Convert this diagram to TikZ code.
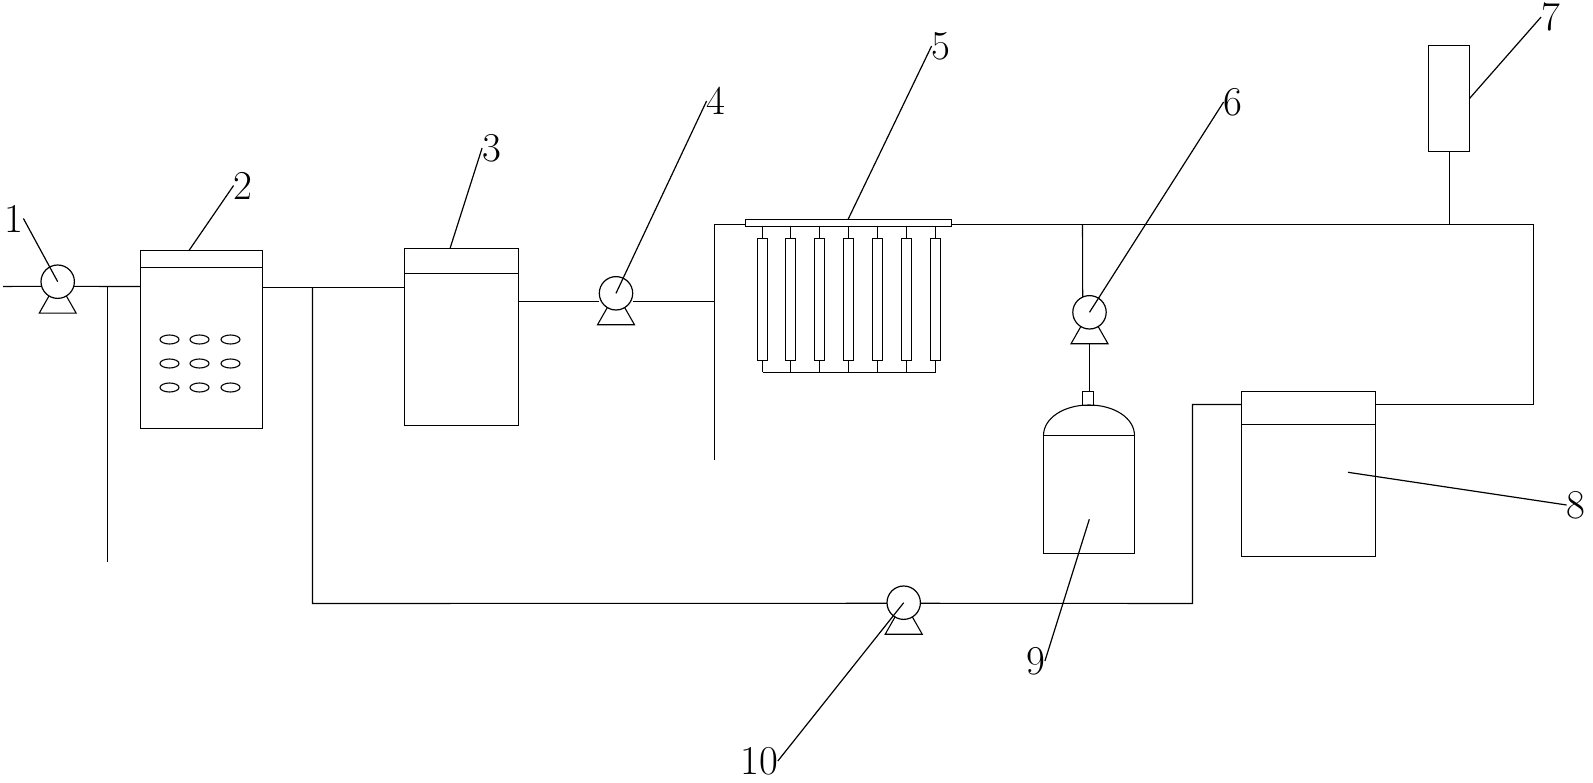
\documentclass[tikz,border=0pt]{standalone}
\usetikzlibrary{shapes.geometric,calc}
\tikzset{
  pipe/.style={draw=black,line width=1.1pt,line join=miter},
  leader/.style={draw=black,line width=1.2pt},
  tank/.style={draw=black,line width=1.1pt,fill=none,rectangle,inner sep=0pt,outer sep=0pt},
  tube/.style={tank,minimum width=10pt,minimum height=122pt},
  pumpbody/.style={draw=black,line width=1.2pt,circle,inner sep=0pt,outer sep=0pt,minimum size=33.4pt},
  bubble/.style={draw=black,line width=1.1pt,ellipse,inner sep=0pt,outer sep=0pt,minimum width=19pt,minimum height=9pt},
  tag/.style={inner sep=0pt,outer sep=0pt,font=\fontsize{41}{41}\selectfont},
}
\newcommand{\pumpfoot}[1]{%
  \draw[pipe] ([shift={(-8.7,14.3)}]#1.center) -- ([shift={(-18.5,31.5)}]#1.center)
    -- ([shift={(18.5,31.5)}]#1.center) -- ([shift={(8.7,14.3)}]#1.center);}
\begin{document}
\begin{tikzpicture}[x=1pt,y=-1pt]
\useasboundingbox (0,0) rectangle (1593,783);
\fill[white] (0,0) rectangle (1593,783);
% pumps
\node[pumpbody] (p1) at (57.7,281.7) {};
\node[pumpbody] (p4) at (616,293.3) {};
\node[pumpbody] (p6) at (1089.5,312.3) {};
\node[pumpbody] (p10) at (903.7,602.7) {};
\pumpfoot{p1}\pumpfoot{p4}\pumpfoot{p6}\pumpfoot{p10}
% tanks
\node[tank,minimum width=122pt,minimum height=178pt] (tank2) at (201.5,339.5) {};
\node[tank,minimum width=114pt,minimum height=177pt] (tank3) at (461.5,336.9) {};
\node[tank,minimum width=41pt,minimum height=106pt] (tank7) at (1449,98.5) {};
\node[tank,minimum width=134pt,minimum height=165pt] (tank8) at (1308.5,474) {};
\node[tank,minimum width=91pt,minimum height=118pt] (tank9) at (1089,494.5) {};
\node[tank,minimum width=11pt,minimum height=14pt] (neck) at (1088,398.5) {};
\node[tank,minimum width=206pt,minimum height=7pt] (hdr) at (848.5,223) {};
\draw[pipe] ([yshift=-17pt]tank2.north west) -- ([yshift=-17pt]tank2.north east);
\draw[pipe] ([yshift=-25pt]tank3.north west) -- ([yshift=-25pt]tank3.north east);
\draw[pipe] ([yshift=-33pt]tank8.north west) -- ([yshift=-33pt]tank8.north east);
\draw[pipe] (tank9.north west) .. controls (1043.5,418.4) and (1063.4,405) .. (1089,405)
   .. controls (1114.6,405) and (1134.5,418.4) .. (tank9.north east);
% bubbles
\foreach \n/\x/\y in {1/169.5/339.5,2/199.5/339.5,3/230.5/339.5,4/169.5/363.5,5/199.5/363.5,6/230.5/363.5,7/169.5/387.5,8/199.5/387.5,9/230.5/387.5}
  \node[bubble] (b\n) at (\x,\y) {};
% tubes
\foreach \n/\x in {1/762.5,2/790.5,3/819.5,4/848.5,5/877.5,6/906.5,7/935.5}
  \node[tube] (t\n) at (\x,299.5) {};
\coordinate (busy) at (762,372.5);
\foreach \n in {1,...,7}{
  \draw[pipe] (t\n.north) -- (t\n.north |- hdr.south);
  \draw[pipe] (t\n.south) -- (t\n.south |- busy);
}
\draw[pipe] (t1.south |- busy) -- (t7.south |- busy);
% pipes
\coordinate (in) at (3,286.5);
\coordinate (j1) at (107.5,286.5);
\coordinate (j1end) at (107.5,562);
\coordinate (o2) at (262.5,287.5);
\coordinate (j2) at (312.5,287.5);
\coordinate (c2) at (312.5,603.5);
\coordinate (c3) at (1192.5,603.5);
\coordinate (c4) at (1192.5,404.5);
\coordinate (o3) at (518.5,301.5);
\coordinate (j4) at (714.5,301.5);
\coordinate (top) at (714.5,224.5);
\coordinate (bot) at (714.5,460);
\coordinate (j6) at (1082.5,224.5);
\coordinate (j7) at (1449.5,224.5);
\coordinate (c5) at (1533.5,224.5);
\coordinate (c6) at (1533.5,404.5);
\draw[pipe] (in) -- (p1.196);
\draw[pipe] (p1.344) -- (j1) -- (tank2.west |- j1);
\draw[pipe] (j1) -- (j1end);
\draw[pipe] (o2) -- (j2) -- (tank3.west |- j2);
\draw[pipe] (j2) -- (c2) -- (p10.182);
\draw[pipe] (p10.358) -- (c3) -- (c4) -- (tank8.west |- c4);
\draw[pipe] (o3) -- (p4.west |- o3);
\draw[pipe] (p4.east |- o3) -- (j4);
\draw[pipe] (bot) -- (top) -- (hdr.west |- top);
\draw[pipe] (hdr.east |- c5) -- (c5) -- (c6) -- (tank8.east |- c6);
\draw[pipe] (j6) -- (p6.114);
\draw[pipe] (j7 |- tank7.south) -- (j7);
\draw[pipe] (p6.south |- 0,343) -- (p6.south |- neck.north);
% labels
\node[tag] (lab1) at (14,218.5) {1};
\node[tag] (lab2) at (243,185.5) {2};
\node[tag] (lab3) at (491.5,148) {3};
\node[tag] (lab4) at (716,101) {4};
\node[tag] (lab5) at (941,46) {5};
\node[tag] (lab6) at (1233,102) {6};
\node[tag] (lab7) at (1550.5,17) {7};
\node[tag] (lab8) at (1576,505) {8};
\node[tag] (lab9) at (1035.5,661) {9};
\node[tag] (lab10) at (759,761) {10};
% leaders
\coordinate (s2) at (189,250.5);
\coordinate (s3) at (450,248.5);
\coordinate (s5) at (848,219.5);
\coordinate (s8) at (1348,472.3);
\coordinate (s9) at (1089.3,519.3);
\draw[leader] (p1.center) -- (lab1.east);
\draw[leader] (s2) -- (lab2.west);
\draw[leader] (s3) -- (lab3.west);
\draw[leader] (p4.center) -- (lab4.west);
\draw[leader] (s5) -- (lab5.west);
\draw[leader] (p6.center) -- (lab6.west);
\draw[leader] (tank7.east) -- (lab7.west);
\draw[leader] (s8) -- (lab8.west);
\draw[leader] (s9) -- (lab9.east);
\draw[leader] (p10.center) -- (lab10.east);
\end{tikzpicture}
\end{document}
